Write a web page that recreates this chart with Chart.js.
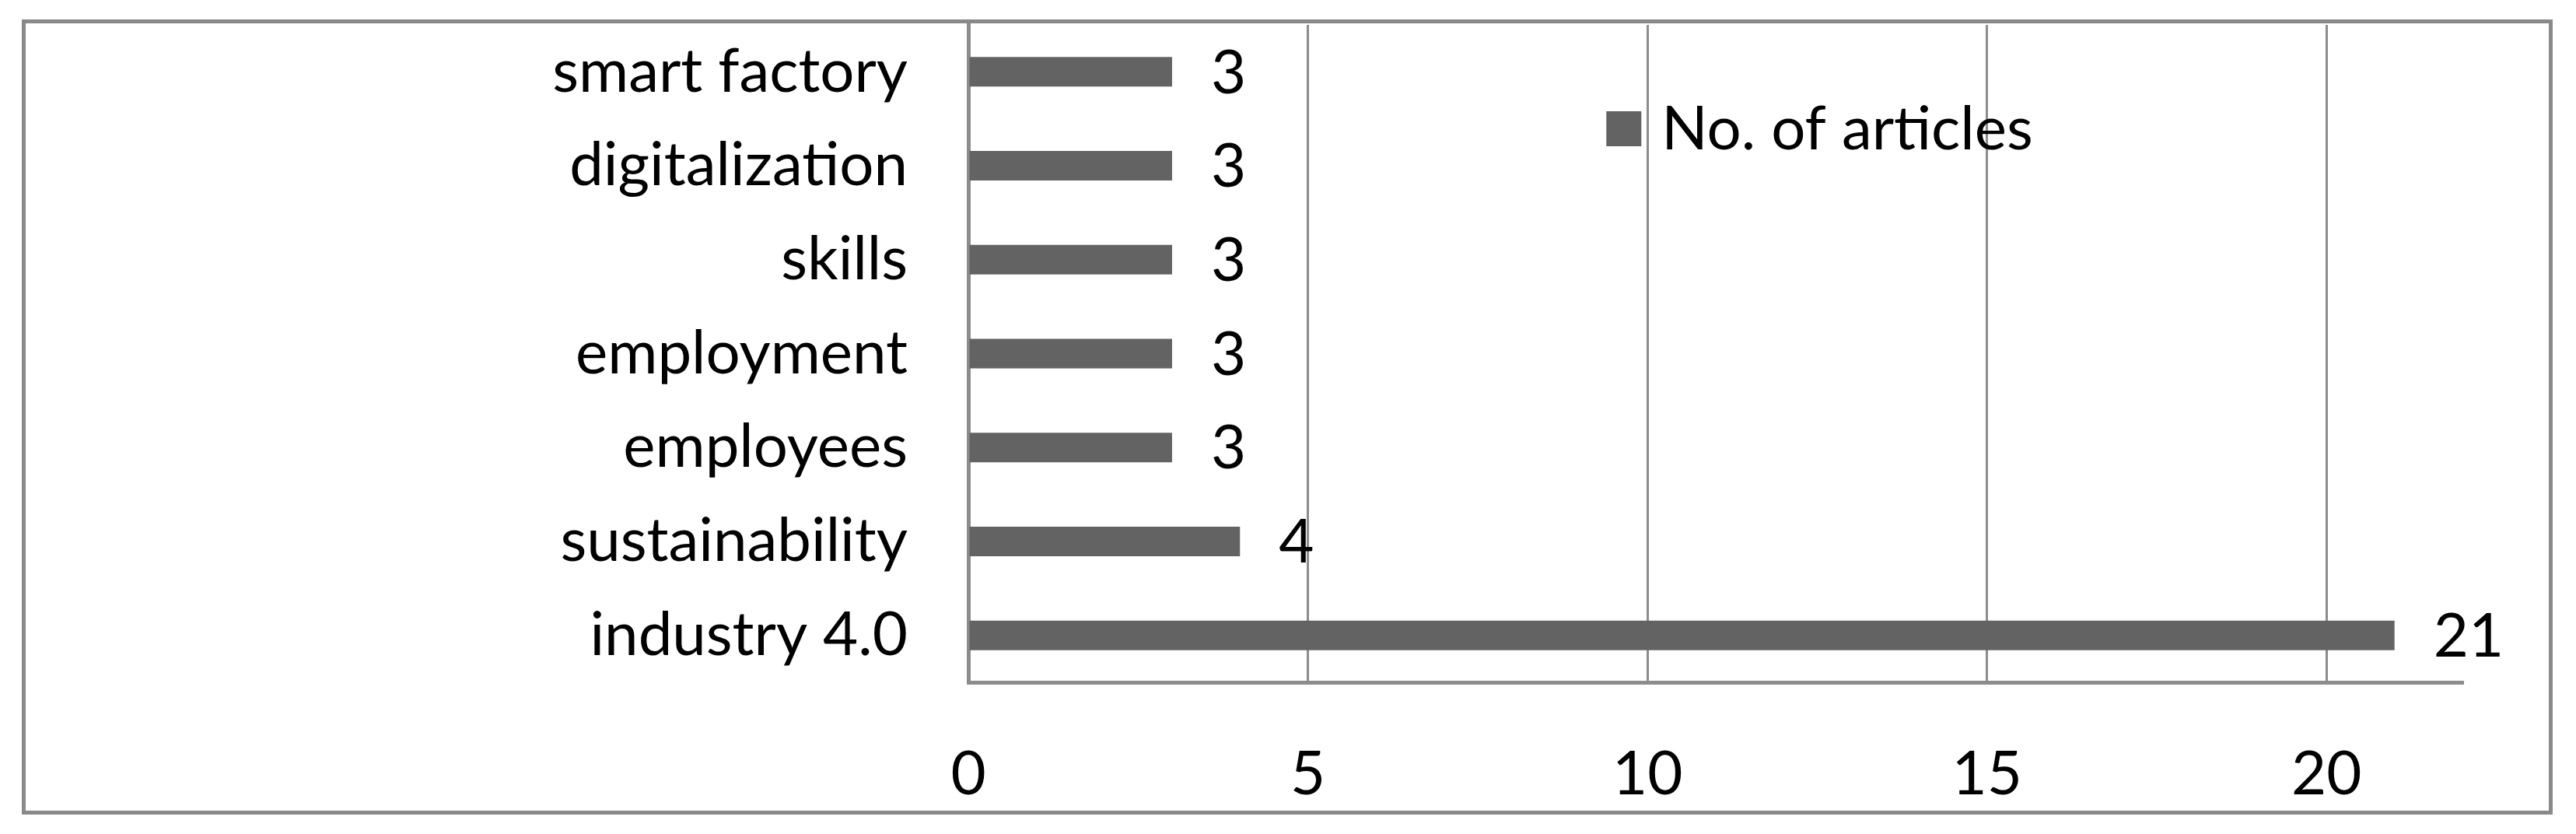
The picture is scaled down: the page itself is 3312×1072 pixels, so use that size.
<!DOCTYPE html>
<html lang="en">
<head>
  <meta charset="UTF-8">
  <title>No. of articles</title>
  <script src="https://cdn.jsdelivr.net/npm/chart.js"></script>
  <style>
    html, body { margin: 0; padding: 0; background: #fff; }
    body { width: 3312px; height: 1072px; position: relative; overflow: hidden; }
    /* outer frame of the chart */
    .frame {
      position: absolute; left: 28px; top: 25px;
      width: 3254px; height: 1022px;
      border: 5px solid #898989; box-sizing: border-box;
    }
    .frame canvas { display: block; }
  </style>
</head>
<body>
  <div class="frame">
    <canvas id="keywordsChart" width="3244" height="1012"></canvas>
  </div>

  <script>
    // DATA
    const keywords = ['smart factory', 'digitalization', 'skills', 'employment', 'employees', 'sustainability', 'industry 4.0'];
    const articles = [3, 3, 3, 3, 3, 4, 21];
    const seriesName = 'No. of articles';
    const xTicks = [0, 5, 10, 15, 20];
    const xMax = 22;

    const FONT = 'Lato, "Open Sans", sans-serif';
    const barColor = '#636363';
    const gridColor = '#8c8c8c';

    // value labels to the right of each bar
    const valueLabels = {
      id: 'valueLabels',
      afterDatasetsDraw(chart) {
        const ctx = chart.ctx;
        const meta = chart.getDatasetMeta(0);
        ctx.save();
        ctx.font = '78px ' + FONT;
        ctx.fillStyle = '#000';
        ctx.textAlign = 'left';
        ctx.textBaseline = 'middle';
        meta.data.forEach((bar, i) => {
          ctx.fillText(String(chart.data.datasets[0].data[i]), bar.x + 50, bar.y + 2);
        });
        ctx.restore();
      }
    };

    // legend drawn inside the plot, like the original
    const innerLegend = {
      id: 'innerLegend',
      afterDraw(chart) {
        const ctx = chart.ctx;
        const area = chart.chartArea;
        const ds = chart.data.datasets[0];
        const x = area.left + area.width * 0.427;
        const y = area.top + 133;
        ctx.save();
        ctx.fillStyle = ds.backgroundColor;
        ctx.fillRect(x, y - 22, 45, 45);
        ctx.fillStyle = '#000';
        ctx.font = '78px ' + FONT;
        ctx.textAlign = 'left';
        ctx.textBaseline = 'middle';
        ctx.fillText(ds.label, x + 71, y + 2);
        ctx.restore();
      }
    };

    // fixed axis sizes, no extra label padding
    function fixSize(s, w, h) {
      if (w) s.width = w;
      if (h) s.height = h;
      s.paddingTop = 0; s.paddingBottom = 0;
      s.paddingLeft = 0; s.paddingRight = 0;
    }

    new Chart(document.getElementById('keywordsChart'), {
      type: 'bar',
      data: {
        labels: keywords,
        datasets: [{
          label: seriesName,
          data: articles,
          backgroundColor: barColor,
          barPercentage: 0.315,
          categoryPercentage: 1
        }]
      },
      options: {
        indexAxis: 'y',
        responsive: false,
        animation: false,
        layout: { padding: { top: 2, right: 111, left: 0, bottom: 0 } },
        plugins: {
          legend: { display: false },
          tooltip: { enabled: false }
        },
        scales: {
          x: {
            min: 0,
            max: xMax,
            afterFit: s => fixSize(s, 0, 165),
            afterBuildTicks: s => { s.ticks = xTicks.map(v => ({ value: v })); },
            ticks: {
              color: '#000',
              font: { family: FONT, size: 78 },
              padding: 72
            },
            grid: { color: gridColor, lineWidth: 3, drawTicks: false },
            border: { color: gridColor, width: 5 }
          },
          y: {
            afterFit: s => fixSize(s, 1212, 0),
            ticks: {
              color: '#000',
              font: { family: FONT, size: 78 },
              padding: 78
            },
            grid: { display: false, drawTicks: false },
            border: { color: gridColor, width: 5 }
          }
        }
      },
      plugins: [valueLabels, innerLegend]
    });
  </script>
</body>
</html>
